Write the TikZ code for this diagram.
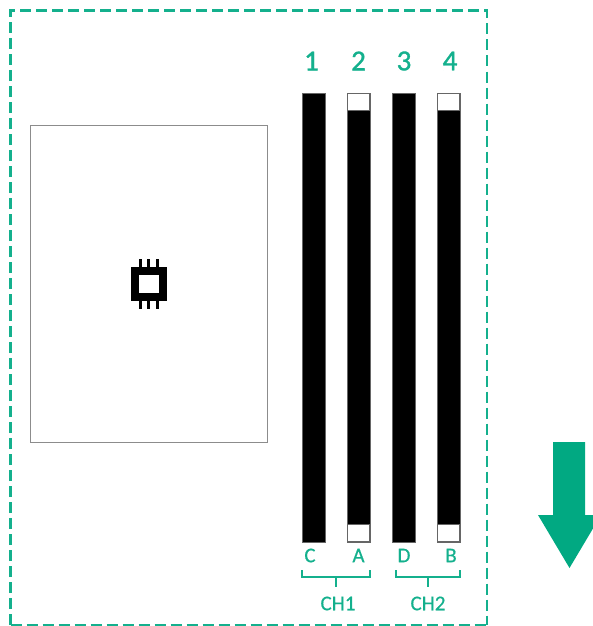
\documentclass[tikz,border=0pt]{standalone}
\usepackage{fontspec}
\setmainfont{Carlito}
\newfontfamily\labfont[FakeBold=0.5]{Carlito}
\newfontfamily\numfont[FakeBold=1.2]{Carlito}
\definecolor{hpegreen}{HTML}{01A982}
\definecolor{linegreen}{HTML}{14B08D}
\tikzset{
  x=1pt,y=-1pt,
  board/.style={draw=linegreen,line width=2.2pt,dash pattern=on 11pt off 5pt},
  socket/.style={draw=black!60,line width=0.8pt,fill=black,minimum width=23pt,minimum height=449pt,inner sep=0,outer sep=0,anchor=north west},
  capopen/.style={draw=black!60,line width=0.8pt,fill=white,inner sep=0,outer sep=0,minimum width=22.5pt,minimum height=17.5pt},
  num/.style={text=linegreen,font=\fontsize{29}{29}\selectfont\numfont,inner sep=0},
  lab/.style={text=linegreen,font=\fontsize{21}{21}\selectfont\labfont,inner sep=0},
  brace/.style={draw=linegreen,line width=2.4pt},
}
\begin{document}
\begin{tikzpicture}
\clip (0,0) rectangle (593,626);
\draw[board] (10.5,625) -- (10.5,10.5) -- (487,10.5) -- (487,625);
\draw[board] (10.5,625) -- (487,625);
% processor
\node[draw=black!45,line width=0.8pt,minimum width=237pt,minimum height=317pt,inner sep=0,outer sep=0,anchor=north west] (cpu) at (30,125) {};
\foreach \px in {140,148.5,157}{
  \fill[black] (\px-1.5,259) rectangle (\px+1.5,309);
}
\node[draw=black,fill=white,line width=8pt,minimum width=28pt,minimum height=26pt,inner sep=0,outer sep=0] (chip) at (148.5,284) {};
% sockets
\node[socket] (s1) at (302,93) {};
\node[socket] (s2) at (347,93) {};
\node[socket] (s3) at (392,93) {};
\node[socket] (s4) at (437,93) {};
\node[capopen] (t2) at (358.5,102) {};
\node[capopen] (t4) at (448.5,102) {};
\node[capopen] (b2) at (358.5,533) {};
\node[capopen] (b4) at (448.5,533) {};
% labels
\node[num] (n1) at (311.5,61) {1};
\node[num] (n2) at (358.5,61) {2};
\node[num] (n3) at (404,61) {3};
\node[num] (n4) at (450,61) {4};
\node[lab] (c) at (310,555.5) {C};
\node[lab] (a) at (358.5,555.5) {A};
\node[lab] (d) at (404,555.5) {D};
\node[lab] (b) at (451,555.5) {B};
\node[lab] (ch1) at (338,603.5) {CH1};
\node[lab] (ch2) at (428,603.5) {CH2};
% brackets
\coordinate (k1) at (336,587);
\coordinate (k2) at (428,587);
\draw[brace] (302,570) -- (302,577) -- (370,577) -- (370,570);
\draw[brace] (336,577) -- (k1);
\draw[brace] (396,570) -- (396,577) -- (460,577) -- (460,570);
\draw[brace] (428,577) -- (k2);
% arrow
\fill[hpegreen] (553,442) -- (585,442) -- (585,515) -- (601,515) -- (569.5,568) -- (538,515) -- (553,515) -- cycle;
\end{tikzpicture}
\end{document}
